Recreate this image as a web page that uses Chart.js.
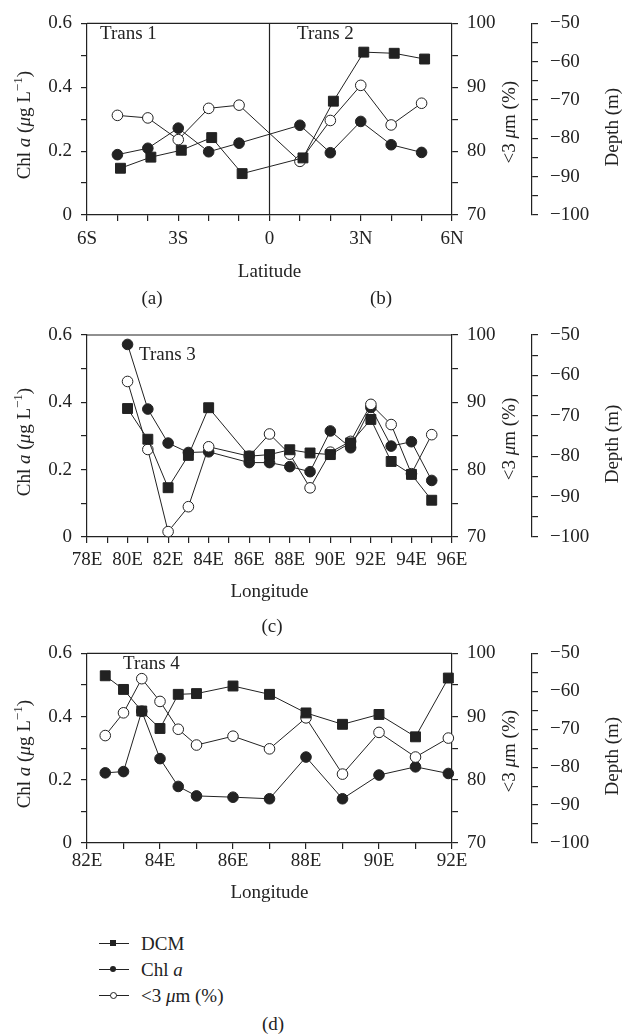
<!DOCTYPE html>
<html>
<head>
<meta charset="utf-8">
<script src="https://cdn.jsdelivr.net/npm/chart.js@4.4.1/dist/chart.umd.min.js"></script>
<style>
body { margin: 0; background: #fff; }
#page { position: relative; width: 637px; height: 1035px; font-family: 'Liberation Serif', 'Times New Roman', serif; color: #222; font-size: 19px; }
#page canvas { position: absolute; left: 0; }
.lbl { position: absolute; line-height: 1; white-space: nowrap; transform: translateY(-50%); }
.ctr { transform: translate(-50%, -50%); }
.leg { position: absolute; left: 99px; display: flex; align-items: center; height: 20px; line-height: 1; white-space: nowrap; }
.smp { position: relative; width: 30px; height: 20px; margin-right: 12px; }
.smp:before { content: ''; position: absolute; left: 0; right: 0; top: 10px; border-top: 1.2px solid #222; }
.mk { position: absolute; left: 11px; top: 7px; width: 6px; height: 6px; background: #222; }
.mk.ci { border-radius: 50%; }
.mk.oc { border-radius: 50%; background: #fff; border: 1px solid #222; width: 5px; height: 5px; top: 7px; }
</style>
</head>
<body>
<div id="page">
  <canvas id="c1" width="637" height="290" style="top:0px"></canvas>
  <canvas id="c2" width="637" height="300" style="top:310px"></canvas>
  <canvas id="c3" width="637" height="280" style="top:630px"></canvas>

  <div class="lbl" style="left:100px;top:32px">Trans 1</div>
  <div class="lbl" style="left:297px;top:32px">Trans 2</div>
  <div class="lbl" style="left:139px;top:353px">Trans 3</div>
  <div class="lbl" style="left:123px;top:662px">Trans 4</div>

  <div class="lbl ctr" style="left:152px;top:297px">(a)</div>
  <div class="lbl ctr" style="left:381px;top:297px">(b)</div>
  <div class="lbl ctr" style="left:272px;top:625px">(c)</div>
  <div class="lbl ctr" style="left:273px;top:1023px">(d)</div>

  <div id="legend"></div>
</div>

<script>
const ink = '#222';
const serif = "'Liberation Serif', 'Times New Roman', serif";

// Trans 1 and Trans 2 (latitude, negative = S)
const lat12 = [-5, -4, -3, -2, -1, 1, 2, 3, 4, 5];
const latDcm12 = [-4.9, -3.9, -2.9, -1.9, -0.9, 1.1, 2.1, 3.1, 4.1, 5.1];
const dcm12 = [-87.8, -84.9, -83.1, -79.8, -89.2, -85.1, -70.3, -57.5, -57.8, -59.3];
const chl12 = [0.189, 0.209, 0.272, 0.198, 0.225, 0.281, 0.195, 0.293, 0.22, 0.196];
const pct12 = [85.6, 85.2, 81.8, 86.7, 87.2, 78.4, 84.8, 90.3, 84.1, 87.5];

// Trans 3 (longitude E)
const lon3 = [80, 81, 82, 83, 84, 86, 87, 88, 89, 90, 91, 92, 93, 94, 95];
const dcm3 = [-68.2, -75.8, -87.8, -79.8, -68.0, -80.0, -79.6, -78.4, -79.2, -79.6, -76.7, -70.9, -81.3, -84.5, -90.9];
const chl3 = [0.572, 0.38, 0.279, 0.251, 0.253, 0.221, 0.221, 0.209, 0.194, 0.315, 0.265, 0.385, 0.27, 0.283, 0.168];
const pct3 = [93.1, 83.0, 70.8, 74.5, 83.4, 82.0, 85.3, 82.3, 77.3, 82.6, 84.2, 89.7, 86.7, 79.4, 85.2];

// Trans 4 (longitude E)
const lon4 = [82.5, 83, 83.5, 84, 84.5, 85, 86, 87, 88, 89, 90, 91, 91.9];
const dcm4 = [-55.9, -59.5, -65.2, -69.8, -60.8, -60.6, -58.6, -60.8, -65.7, -68.7, -66.1, -72.0, -56.5];
const chl4 = [0.222, 0.226, 0.417, 0.267, 0.179, 0.149, 0.145, 0.14, 0.272, 0.14, 0.215, 0.241, 0.22];
const pct4 = [87.0, 90.6, 96.0, 92.4, 88.0, 85.5, 86.9, 84.9, 89.8, 80.9, 87.5, 83.6, 86.6];

// legend
const legendNames = ['DCM', 'Chl <i>a</i>', '&lt;3 <i>μ</i>m (%)'];
const legendMarks = ['sq', 'ci', 'oc'];

// axis titles (drawn rotated, with italics / superscript)
const chlTitle = [{ t: 'Chl ' }, { t: 'a', i: true }, { t: ' (' }, { t: 'μ', i: true }, { t: 'g L' }, { t: '−1', sup: true }, { t: ')' }];
const pctTitle = [{ t: '<3 ' }, { t: 'μ', i: true }, { t: 'm (%)' }];
const depthTitle = [{ t: 'Depth (m)' }];

function drawRich(ctx, parts, cx, cy) {
  const size = 19;
  const fontOf = p => (p.i ? 'italic ' : '') + (p.sup ? 13 : size) + 'px ' + serif;
  ctx.save();
  ctx.translate(cx, cy);
  ctx.rotate(-Math.PI / 2);
  ctx.textBaseline = 'middle';
  ctx.fillStyle = ink;
  const widths = parts.map(p => { ctx.font = fontOf(p); return ctx.measureText(p.t).width; });
  let x = -widths.reduce((a, b) => a + b, 0) / 2;
  parts.forEach((p, i) => {
    ctx.font = fontOf(p);
    ctx.fillText(p.t, x, p.sup ? -6 : 0);
    x += widths[i];
  });
  ctx.restore();
}

const frame = {
  id: 'frame',
  afterDraw(chart, args, opts) {
    const { ctx, chartArea: a, scales: s } = chart;
    ctx.save();
    ctx.strokeStyle = ink;
    ctx.lineWidth = 1.2;
    ctx.beginPath();
    ctx.moveTo(a.left, a.top);
    ctx.lineTo(a.right, a.top);
    if (opts.divider !== undefined) {
      const x = s.x.getPixelForValue(opts.divider);
      ctx.moveTo(x, a.top);
      ctx.lineTo(x, a.bottom);
    }
    ctx.stroke();
    ctx.restore();
    const mid = (a.top + a.bottom) / 2;
    drawRich(ctx, chlTitle, s.y.left + 25, mid + 6);
    drawRich(ctx, pctTitle, s.yPct.right - 22, mid + 3);
    drawRich(ctx, depthTitle, s.yDepth.right - 24, mid + 8);
  }
};

function series(xs, ys, axis, shape, r, fill) {
  return {
    data: xs.map((x, i) => ({ x: x, y: ys[i] })),
    yAxisID: axis,
    borderColor: ink,
    borderWidth: 1,
    pointStyle: shape,
    pointRadius: r,
    pointBackgroundColor: fill,
    pointBorderColor: ink,
    pointBorderWidth: 1,
    tension: 0,
    clip: false
  };
}

function axisBase() {
  return {
    grid: { drawOnChartArea: false, drawTicks: true, tickLength: 6, color: ink, lineWidth: 1.2 },
    border: { color: ink, width: 1.2 },
    ticks: { color: ink, font: { family: serif, size: 19 }, autoSkip: false, maxRotation: 0 }
  };
}

function makeChart(id, o) {
  const x = axisBase();
  x.type = 'linear';
  x.min = o.xMin; x.max = o.xMax;
  x.ticks.stepSize = 1;
  x.ticks.padding = o.xPad;
  x.ticks.callback = o.xFmt;
  x.title = { display: true, text: o.xTitle, color: ink, font: { family: serif, size: 19 }, padding: { top: 0, bottom: o.titlePad } };
  x.afterFit = s => { s.height = o.xHeight; };

  const y = axisBase();
  y.type = 'linear'; y.position = 'left';
  y.min = 0; y.max = 0.6;
  y.ticks.stepSize = 0.1;
  y.ticks.padding = 9;
  y.ticks.callback = v => {
    const k = Math.round(v * 10);
    return k % 2 === 0 ? (k === 0 ? '0' : (k / 10).toFixed(1)) : '';
  };
  y.afterFit = s => { s.width = 87; };

  const yPct = axisBase();
  yPct.type = 'linear'; yPct.position = 'right'; yPct.weight = 0;
  yPct.min = 70; yPct.max = 100;
  yPct.ticks.stepSize = 5;
  yPct.ticks.padding = 9;
  yPct.ticks.callback = v => (v % 10 === 0 ? String(v) : '');
  yPct.afterFit = s => { s.width = 80; };

  const yDepth = axisBase();
  yDepth.type = 'linear'; yDepth.position = 'right'; yDepth.weight = 1;
  yDepth.min = -100; yDepth.max = -50;
  yDepth.ticks.stepSize = 5;
  yDepth.ticks.padding = 12;
  yDepth.ticks.callback = v => (v % 10 === 0 ? '−' + Math.abs(v) : '');
  yDepth.afterFit = s => { s.width = 105; };

  return new Chart(document.getElementById(id), {
    type: 'line',
    data: {
      datasets: [
        series(o.dcmX, o.dcm, 'yDepth', 'rect', 7, ink),
        series(o.pctX, o.pct, 'yPct', 'circle', 5.3, '#fff'),
        series(o.chlX, o.chl, 'y', 'circle', 5.3, ink)
      ]
    },
    options: {
      responsive: false,
      devicePixelRatio: 1,
      animation: false,
      layout: { padding: { top: o.padTop, left: 0, right: 0, bottom: 0 } },
      scales: { x: x, y: y, yPct: yPct, yDepth: yDepth },
      plugins: { legend: { display: false }, tooltip: { enabled: false }, frame: { divider: o.divider } }
    },
    plugins: [frame]
  });
}

const latFmt = v => (v % 3 !== 0 ? '' : v === 0 ? '0' : v < 0 ? (-v) + 'S' : v + 'N');
const lonFmt = v => (v % 2 === 0 ? v + 'E' : '');

makeChart('c1', {
  xMin: -6, xMax: 6, xFmt: latFmt, xTitle: 'Latitude', xPad: 7, xHeight: 75, titlePad: 6.6, padTop: 13,
  dcmX: latDcm12, dcm: dcm12, chlX: lat12, chl: chl12, pctX: lat12, pct: pct12, divider: 0
});
makeChart('c2', {
  xMin: 78, xMax: 96, xFmt: lonFmt, xTitle: 'Longitude', xPad: 5.6, xHeight: 73, titlePad: 6.6, padTop: 25,
  dcmX: lon3, dcm: dcm3, chlX: lon3, chl: chl3, pctX: lon3, pct: pct3
});
makeChart('c3', {
  xMin: 82, xMax: 92, xFmt: lonFmt, xTitle: 'Longitude', xPad: 1, xHeight: 67, titlePad: 5.6, padTop: 19,
  dcmX: lon4, dcm: dcm4, chlX: lon4, chl: chl4, pctX: lon4, pct: pct4
});

const legend = document.getElementById('legend');
legendNames.forEach((name, i) => {
  const row = document.createElement('div');
  row.className = 'leg';
  row.style.top = (933 + i * 26) + 'px';
  row.innerHTML = '<span class="smp"><i class="mk ' + legendMarks[i] + '"></i></span><span>' + name + '</span>';
  legend.appendChild(row);
});
</script>
</body>
</html>
